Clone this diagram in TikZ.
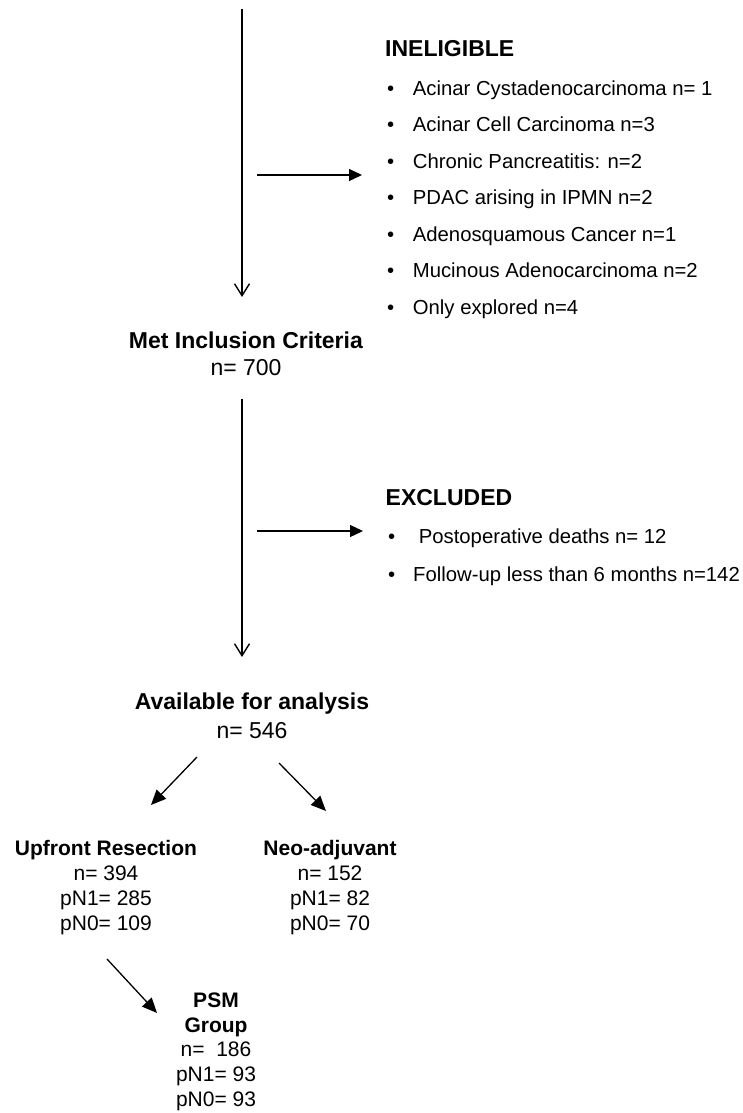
\documentclass[tikz,border=0pt]{standalone}
\usepackage{fontspec}
\setmainfont{Liberation Sans}
\usetikzlibrary{arrows.meta}
\newcommand{\myitem}[1][25.7pt]{\makebox[#1][l]{•}}
\begin{document}
\begin{tikzpicture}[x=1pt,y=-1pt,
  lbl/.style={inner sep=0pt, align=center},
  bigtxt/.style={font=\fontsize{23}{27}\selectfont},
  smalltxt/.style={font=\fontsize{21}{25}\selectfont},
  itemtxt/.style={inner sep=0pt, anchor=base west, font=\fontsize{20.3}{24}\selectfont},
  head/.style={inner sep=0pt, anchor=base west, font=\fontsize{23}{27}\selectfont\bfseries},
  vline/.style={line width=1.4pt, -{Straight Barb[length=12pt,width=15pt]}},
  harrow/.style={line width=1.3pt, -{Triangle[length=13pt,width=12pt]}},
  darrow/.style={line width=1.3pt, -{Triangle[length=15pt,width=13pt]}},
]
\useasboundingbox (0,0) rectangle (743,1113);

% top flow
\coordinate (top) at (242,9);
\coordinate (v1e) at (242,297);
\draw[vline] (top) -- (v1e);

\node[lbl,bigtxt] (met) at (246,353.5) {\textbf{Met Inclusion Criteria}\\n= 700};

% ineligible list
\node[head] (inel) at (385,56.2) {INELIGIBLE};
\node[itemtxt] (i1) at (387,95.2) {\myitem Acinar Cystadenocarcinoma n= 1};
\node[itemtxt] (i2) at (387,131.7) {\myitem Acinar Cell Carcinoma n=3};
\node[itemtxt] (i3) at (387,168.2) {\myitem Chronic Pancreatitis: n=2};
\node[itemtxt] (i4) at (387,204.7) {\myitem PDAC arising in IPMN n=2};
\node[itemtxt] (i5) at (387,241.2) {\myitem Adenosquamous Cancer n=1};
\node[itemtxt] (i6) at (387,277.7) {\myitem Mucinous Adenocarcinoma n=2};
\node[itemtxt] (i7) at (387,314.2) {\myitem Only explored n=4};

\coordinate (h1s) at (257,175);
\coordinate (h1e) at (362,175);
\draw[harrow] (h1s) -- (h1e);

% second flow
\coordinate (v2s) at (242,399);
\coordinate (v2e) at (242,657);
\draw[vline] (v2s) -- (v2e);

\node[head] (excl) at (385.5,505.2) {EXCLUDED};
\node[itemtxt] (e1) at (388,543.2) {\myitem[25pt]\ Postoperative deaths n= 12};
\node[itemtxt] (e2) at (388,581.2) {\myitem[25pt]Follow-up less than 6 months n=142};

\coordinate (h2s) at (257,531);
\coordinate (h2e) at (363,531);
\draw[harrow] (h2s) -- (h2e);

\node[lbl,font=\fontsize{23}{28.5}\selectfont] (avail) at (252,716) {\textbf{Available for analysis}\\n= 546};

\coordinate (d1s) at (197,757);
\coordinate (d1e) at (151,805);
\draw[darrow] (d1s) -- (d1e);
\coordinate (d2s) at (279,763);
\coordinate (d2e) at (326,811);
\draw[darrow] (d2s) -- (d2e);

\node[lbl,smalltxt] (up) at (106,887.5) {\textbf{Upfront Resection}\\n= 394\\pN1= 285\\pN0= 109};
\node[lbl,smalltxt] (neo) at (330,887.5) {\textbf{Neo-adjuvant}\\n= 152\\pN1= 82\\pN0= 70};

\coordinate (d3s) at (107,959);
\coordinate (d3e) at (157,1013);
\draw[darrow] (d3s) -- (d3e);

\node[lbl,font=\fontsize{21}{24.75}\selectfont] (psm) at (216,1051.7) {\textbf{PSM}\\\textbf{Group}\\n=\ \ 186\\pN1= 93\\pN0= 93};
\end{tikzpicture}
\end{document}
